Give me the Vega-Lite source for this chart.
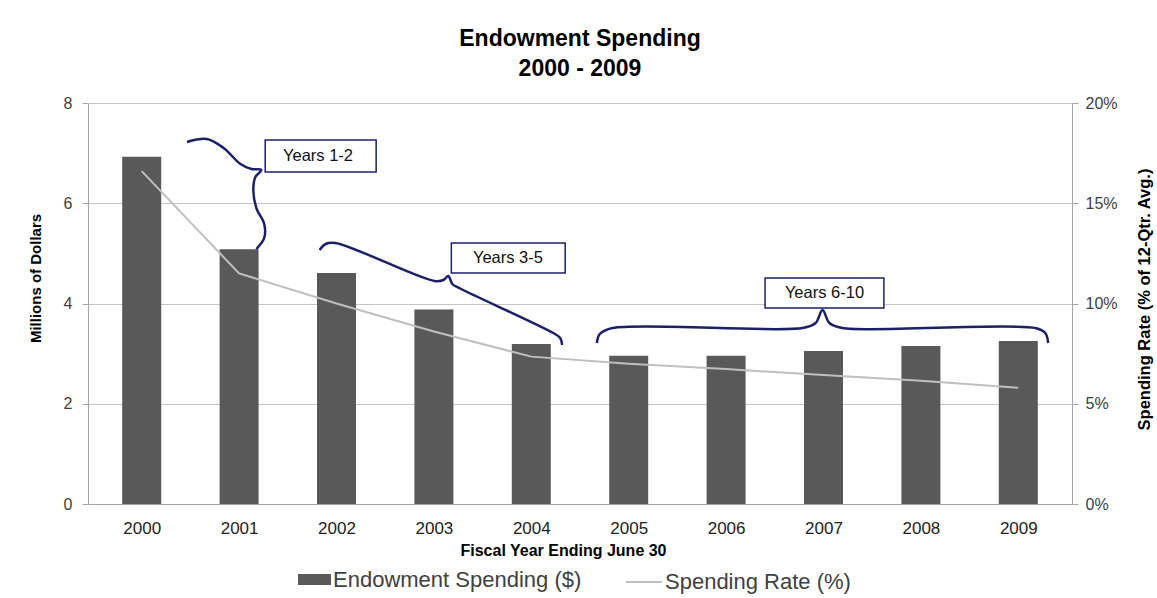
{
  "$schema": "https://vega.github.io/schema/vega-lite/v6.json",
  "width": 984,
  "height": 401,
  "autosize": {"type": "none"},
  "padding": {"left": 88, "top": 103, "right": 85, "bottom": 94},
  "background": "white",
  "title": {
    "text": ["Endowment Spending", "2000 - 2009"],
    "font": "Liberation Sans",
    "fontSize": 23,
    "fontWeight": "bold",
    "lineHeight": 30,
    "anchor": "middle",
    "offset": 14,
    "color": "black"
  },
  "config": {
    "view": {"stroke": null},
    "font": "Liberation Sans",
    "axisX": {
      "grid": false,
      "ticks": false,
      "domainColor": "#a6a6a6",
      "labelFontSize": 17,
      "labelColor": "#222222",
      "labelPadding": 16,
      "titleFontSize": 16,
      "titleFontWeight": "bold",
      "titleColor": "black",
      "titleX": 475,
      "titleY": 46,
      "titleBaseline": "middle"
    },
    "axisLeft": {
      "grid": true,
      "gridColor": "#c4c4c4",
      "domainColor": "#a6a6a6",
      "tickColor": "#a6a6a6",
      "tickSize": 6,
      "labelFontSize": 16,
      "labelColor": "#404040",
      "labelPadding": 10,
      "titleFontSize": 15,
      "titleFontWeight": "bold",
      "titleColor": "black",
      "titleX": -53,
      "titleY": 175,
      "titleBaseline": "middle"
    },
    "axisRight": {
      "grid": false,
      "domainColor": "#a6a6a6",
      "tickColor": "#a6a6a6",
      "tickSize": 6,
      "labelFontSize": 16,
      "labelColor": "#404040",
      "labelPadding": 7,
      "titleFontSize": 16.5,
      "titleFontWeight": "bold",
      "titleColor": "black",
      "titleAngle": 270,
      "titleX": 72,
      "titleY": 196,
      "titleBaseline": "middle"
    }
  },
  "datasets": {
    "years": [
      {"year": 2000, "spending": 6.93, "rate": 0.166},
      {"year": 2001, "spending": 5.08, "rate": 0.115},
      {"year": 2002, "spending": 4.61, "rate": 0.100},
      {"year": 2003, "spending": 3.88, "rate": 0.086},
      {"year": 2004, "spending": 3.19, "rate": 0.0735},
      {"year": 2005, "spending": 2.96, "rate": 0.070},
      {"year": 2006, "spending": 2.96, "rate": 0.0673},
      {"year": 2007, "spending": 3.05, "rate": 0.0643},
      {"year": 2008, "spending": 3.15, "rate": 0.0615},
      {"year": 2009, "spending": 3.25, "rate": 0.058}
    ],
    "braces": [
      {"brace": "b1", "order": 1, "x": 2000.465, "y": 7.222},
      {"brace": "b1", "order": 2, "x": 2000.669, "y": 7.282},
      {"brace": "b1", "order": 3, "x": 2000.841, "y": 7.102},
      {"brace": "b1", "order": 4, "x": 2001.014, "y": 6.783},
      {"brace": "b1", "order": 5, "x": 2001.126, "y": 6.683},
      {"brace": "b1", "order": 6, "x": 2001.228, "y": 6.663},
      {"brace": "b1", "order": 7, "x": 2001.167, "y": 6.524},
      {"brace": "b1", "order": 8, "x": 2001.146, "y": 6.264},
      {"brace": "b1", "order": 9, "x": 2001.177, "y": 5.905},
      {"brace": "b1", "order": 10, "x": 2001.258, "y": 5.586},
      {"brace": "b1", "order": 11, "x": 2001.258, "y": 5.307},
      {"brace": "b1", "order": 12, "x": 2001.177, "y": 5.087},
      {"brace": "b2", "order": 1, "x": 2001.827, "y": 5.067},
      {"brace": "b2", "order": 2, "x": 2001.888, "y": 5.187},
      {"brace": "b2", "order": 3, "x": 2001.990, "y": 5.207},
      {"brace": "b2", "order": 4, "x": 2003.006, "y": 4.449},
      {"brace": "b2", "order": 5, "x": 2003.098, "y": 4.469},
      {"brace": "b2", "order": 6, "x": 2003.148, "y": 4.549},
      {"brace": "b2", "order": 7, "x": 2003.189, "y": 4.389},
      {"brace": "b2", "order": 8, "x": 2003.280, "y": 4.289},
      {"brace": "b2", "order": 9, "x": 2004.226, "y": 3.411},
      {"brace": "b2", "order": 10, "x": 2004.297, "y": 3.312},
      {"brace": "b2", "order": 11, "x": 2004.317, "y": 3.172},
      {"brace": "b3", "order": 1, "x": 2004.673, "y": 3.212},
      {"brace": "b3", "order": 2, "x": 2004.703, "y": 3.392},
      {"brace": "b3", "order": 3, "x": 2004.835, "y": 3.511},
      {"brace": "b3", "order": 4, "x": 2006.787, "y": 3.511},
      {"brace": "b3", "order": 5, "x": 2006.919, "y": 3.611},
      {"brace": "b3", "order": 6, "x": 2006.990, "y": 3.870},
      {"brace": "b3", "order": 7, "x": 2007.061, "y": 3.611},
      {"brace": "b3", "order": 8, "x": 2007.193, "y": 3.511},
      {"brace": "b3", "order": 9, "x": 2009.175, "y": 3.511},
      {"brace": "b3", "order": 10, "x": 2009.277, "y": 3.411},
      {"brace": "b3", "order": 11, "x": 2009.307, "y": 3.212}
    ],
    "boxes": [
      {"label": "Years 1-2", "x1": 2001.268, "x2": 2002.407, "y1": 7.262, "y2": 6.623, "xc": 2001.81, "yc": 6.94},
      {"label": "Years 3-5", "x1": 2003.179, "x2": 2004.348, "y1": 5.207, "y2": 4.608, "xc": 2003.76, "yc": 4.91},
      {"label": "Years 6-10", "x1": 2006.40, "x2": 2007.62, "y1": 4.509, "y2": 3.910, "xc": 2007.01, "yc": 4.21}
    ]
  },
  "layer": [
    {
      "layer": [
        {
          "data": {"name": "years"},
          "mark": {"type": "bar", "size": 39},
          "encoding": {
            "x": {"field": "year", "type": "quantitative", "scale": {"domain": [1999.5, 2009.5], "nice": false, "zero": false}, "axis": {"title": "Fiscal Year Ending June 30", "values": [2000, 2001, 2002, 2003, 2004, 2005, 2006, 2007, 2008, 2009], "format": "d"}},
            "y": {"field": "spending", "type": "quantitative", "scale": {"domain": [0, 8], "nice": false}, "axis": {"title": "Millions of Dollars", "values": [0, 2, 4, 6, 8]}},
            "color": {
              "datum": "Endowment Spending ($)",
              "type": "nominal",
              "scale": {"range": ["#595959"]},
              "legend": {
                "title": null,
                "orient": "none",
                "legendX": 210,
                "legendY": 460,
                "padding": 0,
                "symbolType": "M-1,-0.33H1V0.33H-1Z",
                "symbolSize": 1089,
                "symbolStrokeWidth": 0,
                "labelFontSize": 22,
                "labelLimit": 400,
                "labelColor": "#404040",
                "labelOffset": 2
              }
            }
          }
        },
        {
          "data": {"name": "braces"},
          "mark": {"type": "line", "interpolate": "catmull-rom", "stroke": "#1c2066", "strokeWidth": 2.5},
          "encoding": {
            "x": {"field": "x", "type": "quantitative", "scale": {"domain": [1999.5, 2009.5], "nice": false, "zero": false}, "axis": {"title": "Fiscal Year Ending June 30", "values": [2000, 2001, 2002, 2003, 2004, 2005, 2006, 2007, 2008, 2009], "format": "d"}},
            "y": {"field": "y", "type": "quantitative", "scale": {"domain": [0, 8], "nice": false}, "axis": {"title": "Millions of Dollars", "values": [0, 2, 4, 6, 8]}},
            "detail": {"field": "brace", "type": "nominal"},
            "order": {"field": "order", "type": "quantitative"}
          }
        },
        {
          "data": {"name": "boxes"},
          "mark": {"type": "rect", "fill": "white", "stroke": "#1c2066", "strokeWidth": 1.5},
          "encoding": {
            "x": {"field": "x1", "type": "quantitative", "scale": {"domain": [1999.5, 2009.5], "nice": false, "zero": false}, "axis": {"title": "Fiscal Year Ending June 30", "values": [2000, 2001, 2002, 2003, 2004, 2005, 2006, 2007, 2008, 2009], "format": "d"}},
            "x2": {"field": "x2"},
            "y": {"field": "y1", "type": "quantitative", "scale": {"domain": [0, 8], "nice": false}, "axis": {"title": "Millions of Dollars", "values": [0, 2, 4, 6, 8]}},
            "y2": {"field": "y2"}
          }
        },
        {
          "data": {"name": "boxes"},
          "mark": {"type": "text", "fontSize": 16.5, "color": "#111111", "align": "center", "baseline": "middle"},
          "encoding": {
            "x": {"field": "xc", "type": "quantitative", "scale": {"domain": [1999.5, 2009.5], "nice": false, "zero": false}, "axis": {"title": "Fiscal Year Ending June 30", "values": [2000, 2001, 2002, 2003, 2004, 2005, 2006, 2007, 2008, 2009], "format": "d"}},
            "y": {"field": "yc", "type": "quantitative", "scale": {"domain": [0, 8], "nice": false}, "axis": {"title": "Millions of Dollars", "values": [0, 2, 4, 6, 8]}},
            "text": {"field": "label", "type": "nominal"}
          }
        }
      ]
    },
    {
      "data": {"name": "years"},
      "mark": {"type": "line", "strokeWidth": 2},
      "encoding": {
        "x": {"field": "year", "type": "quantitative", "scale": {"domain": [1999.5, 2009.5], "nice": false, "zero": false}, "axis": {"title": "Fiscal Year Ending June 30", "values": [2000, 2001, 2002, 2003, 2004, 2005, 2006, 2007, 2008, 2009], "format": "d"}},
        "y": {
          "field": "rate", "type": "quantitative",
          "scale": {"domain": [0, 0.2], "nice": false},
          "axis": {"orient": "right", "title": "Spending Rate (% of 12-Qtr. Avg.)", "values": [0, 0.05, 0.1, 0.15, 0.2], "format": ".0%"}
        },
        "stroke": {
          "datum": "Spending Rate (%)",
          "type": "nominal",
          "scale": {"range": ["#bfbfbf"]},
          "legend": {
            "title": null,
            "orient": "none",
            "legendX": 537,
            "legendY": 460,
            "padding": 0,
            "symbolType": "stroke",
            "symbolSize": 1296,
            "symbolStrokeWidth": 2,
            "labelFontSize": 22,
            "labelLimit": 400,
            "labelColor": "#404040",
            "labelOffset": 2
          }
        }
      }
    }
  ],
  "resolve": {"scale": {"y": "independent"}}
}
